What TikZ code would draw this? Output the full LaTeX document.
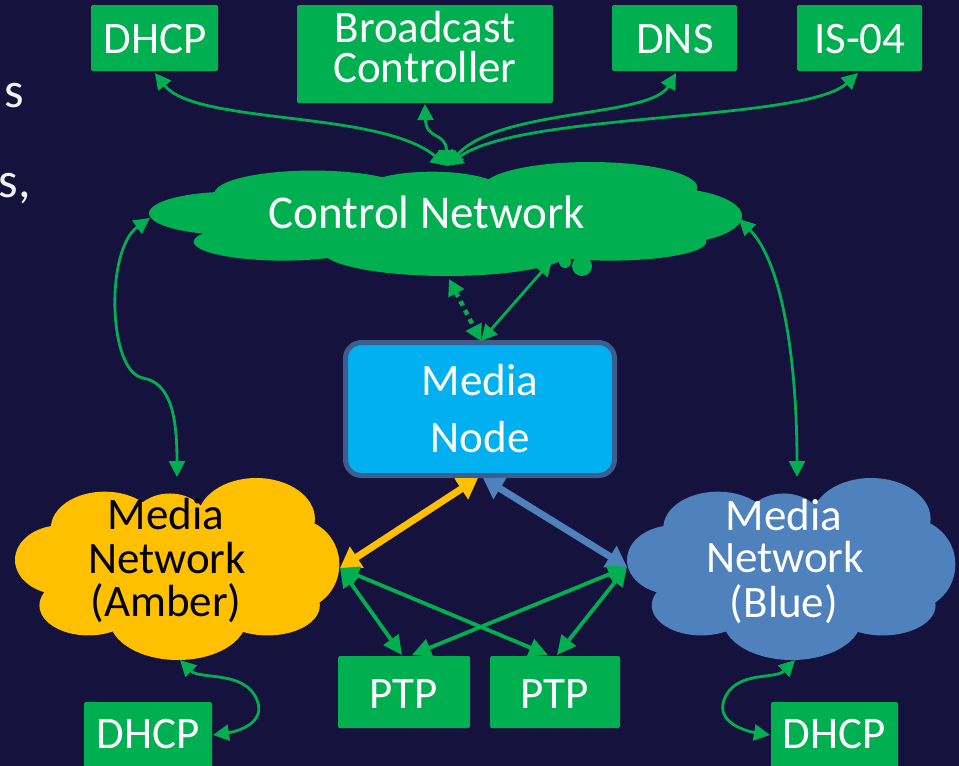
\documentclass[tikz,border=0pt]{standalone}
\usepackage{fontspec}
\setmainfont{Carlito}
\usetikzlibrary{arrows.meta}
\definecolor{bg}{HTML}{16123E}
\definecolor{grn}{HTML}{00B050}
\definecolor{amb}{HTML}{FFC000}
\definecolor{blu}{HTML}{4F81BD}
\definecolor{cyn}{HTML}{00B0F0}
\definecolor{nodeborder}{HTML}{3C5E8E}
\newcommand{\mycloud}[5]{%
  \begin{scope}[shift={(#1,#2)}, xscale=#3, yscale=-#4]
    \fill[#5] (0,0) ellipse (0.75 and 0.7)
      (-0.45,0.45) ellipse (0.33 and 0.4)
      (-0.05,0.45) ellipse (0.25 and 0.38)
      (0.48,0.55) ellipse (0.36 and 0.45)
      (0.72,0.05) ellipse (0.27 and 0.5)
      (-0.72,0.1) ellipse (0.28 and 0.38)
      (-0.55,-0.4) ellipse (0.3 and 0.33)
      (0.0,-0.55) ellipse (0.42 and 0.45)
      (0.55,-0.4) ellipse (0.32 and 0.33);
  \end{scope}}
\tikzset{
  gbox/.style={fill=grn, inner sep=0pt, rounded corners=1.5pt},
  lbl/.style={font=\fontsize{45}{50}\selectfont, text=white, inner sep=0pt, anchor=base},
  gtip/.style={line width=2.8pt, draw=grn, {Triangle[length=16pt,width=16pt]}-{Triangle[length=16pt,width=16pt]}},
  ptptip/.style={line width=3.8pt, draw=grn, {Triangle[length=19pt,width=18pt]}-{Triangle[length=19pt,width=18pt]}},
  thick amb/.style={line width=7pt, draw=amb, {Triangle[length=20pt,width=24pt]}-{Triangle[length=20pt,width=24pt]}},
  thick blu/.style={line width=7pt, draw=blu, {Triangle[length=20pt,width=24pt]}-{Triangle[length=20pt,width=24pt]}},
}
\begin{document}
\begin{tikzpicture}[x=1pt,y=-1pt]
\fill[bg] (0,0) rectangle (959,766);
\useasboundingbox (0,0) rectangle (959,766);

% partial text at left edge
\node[font=\fontsize{50}{55}\selectfont, text=white!95!bg, inner sep=0pt, anchor=base east] (frag1) at (24,107) {s};
\node[font=\fontsize{50}{55}\selectfont, text=white!95!bg, inner sep=0pt, anchor=base east] (frag2) at (31,197) {s,};

% clouds
\mycloud{447}{219}{298}{57}{grn}
\fill[grn] (565,262) circle (6) (582,266) circle (10);
\mycloud{178}{569}{163}{91}{amb}
\mycloud{792}{569}{165}{91}{blu}
\node[inner sep=0pt] (cn) at (447,219) {};
\node[inner sep=0pt] (amber) at (178,569) {};
\node[inner sep=0pt] (blue) at (792,569) {};
\node[lbl, font=\fontsize{47}{50}\selectfont] (cntext) at (427,228) {Control Network};
\node[lbl, text=black] (am1) at (166,529) {Media};
\node[lbl, text=black] (am2) at (167,573) {Network};
\node[lbl, text=black] (am3) at (166,616) {(Amber)};
\node[lbl] (bl1) at (784,530) {Media};
\node[lbl] (bl2) at (785,572) {Network};
\node[lbl] (bl3) at (784,617) {(Blue)};

% top boxes
\node[gbox, minimum width=127pt, minimum height=66pt] (dhcpA) at (154.5,38) {};
\node[gbox, minimum width=256pt, minimum height=98pt] (bc) at (425,54) {};
\node[gbox, minimum width=125pt, minimum height=66pt] (dns) at (674.5,38) {};
\node[gbox, minimum width=125pt, minimum height=66pt] (is04) at (859.5,38) {};
\node[lbl] (tdhcpA) at (155,53) {DHCP};
\node[lbl, font=\fontsize{45}{40}\selectfont, align=center] (tbc) at (425,82) {Broadcast\\Controller};
\node[lbl] (tdns) at (675,53) {DNS};
\node[lbl] (tis04) at (860,53) {IS-04};

% media node
\node[fill=cyn, draw=nodeborder, line width=5pt, rounded corners=16pt, minimum width=269pt, minimum height=133pt, inner sep=0pt] (mn) at (480,409) {};
\node[lbl, font=\fontsize{45}{57}\selectfont, align=center] (mntext) at (480,452) {Media\\Node};

% PTP and bottom DHCP
\node[gbox, minimum width=132pt, minimum height=72pt] (ptp1) at (404,692) {};
\node[gbox, minimum width=130pt, minimum height=72pt] (ptp2) at (555,692) {};
\node[lbl] (tptp1) at (404,708) {PTP};
\node[lbl] (tptp2) at (555,708) {PTP};
\node[gbox, minimum width=128pt, minimum height=70pt] (dhcpB) at (148,737) {};
\node[gbox, minimum width=127pt, minimum height=70pt] (dhcpC) at (834.5,737) {};
\node[lbl] (tdhcpB) at (148,748) {DHCP};
\node[lbl] (tdhcpC) at (834,748) {DHCP};

% connector end points
\coordinate (cnTop) at (447,166);
\coordinate (dhcpAb) at (155,73);
\coordinate (bcb) at (425,104);
\coordinate (dnsb) at (676,73);
\coordinate (is04b) at (858,73);
\coordinate (cnL) at (150,218);
\coordinate (cnR) at (739,219);
\coordinate (amT) at (177,477);
\coordinate (blT) at (797,477);
\coordinate (cnB1) at (449,279);
\coordinate (cnB2) at (552,260);
\coordinate (mnT) at (481,341);
\coordinate (mnB1) at (478,478);
\coordinate (mnB2) at (483,478);
\coordinate (amR) at (340,568);
\coordinate (blL) at (627,567);
\coordinate (p1a) at (402,655);
\coordinate (p1b) at (412,655);
\coordinate (p2a) at (548,655);
\coordinate (p2b) at (557,655);
\coordinate (amB) at (180,660);
\coordinate (blB) at (795,660);
\coordinate (dBr) at (213,735);
\coordinate (dCl) at (770,735);

% top connectors
\draw[gtip] (dhcpAb) .. controls (195,125) and (380,110) .. (cnTop);
\draw[gtip] (bcb) .. controls (426,140) and (446,132) .. (cnTop);
\draw[gtip] (cnTop) .. controls (500,108) and (650,118) .. (dnsb);
\draw[gtip] (cnTop) .. controls (520,112) and (805,122) .. (is04b);

% side connectors
\draw[gtip] (cnL) .. controls (105,250) and (108,372) .. (143,378) .. controls (172,383) and (177,420) .. (amT);
\draw[gtip] (cnR) .. controls (782,262) and (797,360) .. (blT);

% control network to media node
\draw[line width=4.5pt, draw=grn, dash pattern=on 5pt off 5pt, {Triangle[length=16pt,width=17pt]}-{Triangle[length=16pt,width=17pt]}] (cnB1) -- (mnT);
\draw[gtip] (mnT) -- (cnB2);

% media node to media networks
\draw[thick amb] (mnB1) -- (amR);
\draw[thick blu] (mnB2) -- (blL);

% PTP
\draw[ptptip] (amR) -- (p1a);
\draw[ptptip] (amR) -- (p2a);
\draw[ptptip] (blL) -- (p1b);
\draw[ptptip] (blL) -- (p2b);

% bottom DHCP
\draw[gtip] (amB) .. controls (200,680) and (245,670) .. (257,700) .. controls (266,722) and (240,731) .. (dBr);
\draw[gtip] (blB) .. controls (775,680) and (735,670) .. (724,700) .. controls (716,722) and (745,731) .. (dCl);
\end{tikzpicture}
\end{document}
